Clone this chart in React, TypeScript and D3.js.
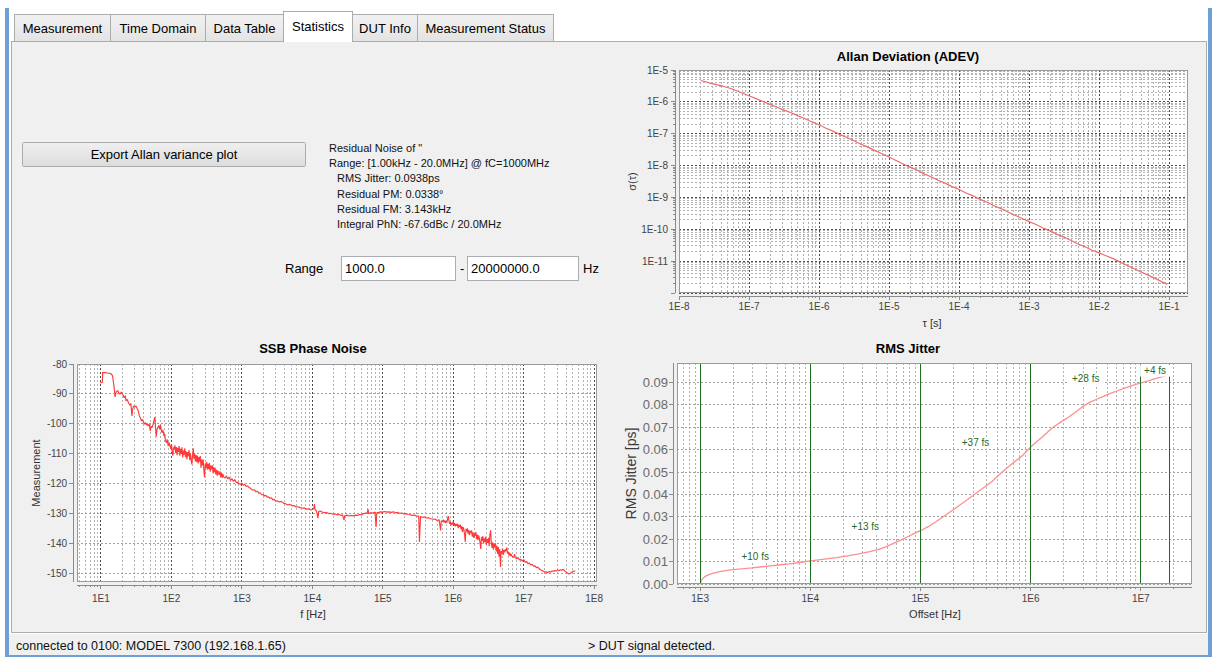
import React from 'react';
import * as d3 from 'd3';

const FONT = '"Liberation Sans", Arial, Helvetica, sans-serif';

// ---------------- data ----------------
const tabLabels = ['Measurement', 'Time Domain', 'Data Table', 'Statistics', 'DUT Info', 'Measurement Status'];
const activeTab = 'Statistics';
const exportButtonLabel = 'Export Allan variance plot';
const summaryLines = [
  'Residual Noise of "',
  'Range: [1.00kHz - 20.0MHz] @ fC=1000MHz',
  'RMS Jitter: 0.0938ps',
  'Residual PM: 0.0338°',
  'Residual FM: 3.143kHz',
  'Integral PhN: -67.6dBc / 20.0MHz',
];
const rangeStart = '1000.0';
const rangeEnd = '20000000.0';
const statusLeft = 'connected to 0100: MODEL 7300 (192.168.1.65)';
const statusRight = '> DUT signal detected.';

// Allan deviation: [log10 tau (s), log10 sigma]
const adevPoints: [number, number][] = [
  [-7.69, -5.33], [-7.62, -5.37], [-7.55, -5.42], [-7.48, -5.45], [-7.4, -5.49], [-7.32, -5.54], [-7.25, -5.59],
  [-7.17, -5.66], [-7.1, -5.72], [-7.0, -5.81], [-6.9, -5.9], [-6.8, -5.99], [-6.7, -6.08], [-6.6, -6.17],
  [-6.5, -6.26], [-6.4, -6.34], [-6.3, -6.44], [-6.2, -6.53], [-6.1, -6.63], [-6.0, -6.72], [-5.9, -6.83],
  [-5.8, -6.92], [-5.7, -7.03], [-5.6, -7.12], [-5.5, -7.22], [-5.4, -7.33], [-5.3, -7.42], [-5.2, -7.53],
  [-5.1, -7.63], [-5.0, -7.73], [-4.9, -7.84], [-4.8, -7.95], [-4.7, -8.05], [-4.6, -8.14], [-4.5, -8.26],
  [-4.4, -8.35], [-4.3, -8.46], [-4.2, -8.55], [-4.1, -8.66], [-4.0, -8.75], [-3.9, -8.86], [-3.8, -8.95],
  [-3.7, -9.06], [-3.6, -9.15], [-3.5, -9.26], [-3.4, -9.35], [-3.3, -9.46], [-3.2, -9.56], [-3.1, -9.66],
  [-3.0, -9.76], [-2.9, -9.85], [-2.8, -9.96], [-2.7, -10.05], [-2.6, -10.16], [-2.5, -10.25], [-2.4, -10.35],
  [-2.3, -10.46], [-2.2, -10.55], [-2.1, -10.66], [-2.0, -10.74], [-1.9, -10.83], [-1.8, -10.92], [-1.7, -11.03],
  [-1.6, -11.13], [-1.5, -11.24], [-1.4, -11.34], [-1.3, -11.44], [-1.2, -11.54], [-1.1, -11.65], [-1.03, -11.72],
];

// SSB phase noise: [log10 f (Hz), dBc/Hz]
const ssbPoints: [number, number][] = [
  [0.99, -86.3], [1.02, -86.2], [1.025, -82.8], [1.06, -82.9], [1.09, -83.0], [1.12, -83.1], [1.15, -83.4],
  [1.165, -84.0], [1.18, -86.6], [1.19, -88.5], [1.2, -91.0], [1.21, -89.8], [1.22, -89.2], [1.24, -88.9],
  [1.25, -89.6], [1.27, -90.1], [1.29, -89.4], [1.31, -90.2], [1.33, -91.3], [1.345, -90.6], [1.355, -92.4],
  [1.37, -91.8], [1.39, -92.9], [1.41, -93.8], [1.425, -93.2], [1.44, -97.4], [1.45, -95.1], [1.465, -94.0],
  [1.48, -94.4], [1.5, -94.1], [1.515, -95.0], [1.53, -95.7], [1.545, -97.4], [1.56, -98.0],
  [1.575, -99.1], [1.59, -98.6], [1.6, -99.3], [1.615, -100.2], [1.63, -99.6], [1.645, -100.4], [1.655, -99.9],
  [1.67, -100.8], [1.685, -100.1], [1.7, -102.4], [1.71, -100.9], [1.725, -101.3], [1.74, -100.2], [1.755, -98.6],
  [1.765, -97.8], [1.775, -101.5], [1.785, -104.3], [1.795, -102.0], [1.805, -101.4], [1.82, -100.6], [1.835, -101.9],
  [1.845, -100.3], [1.86, -102.6], [1.87, -103.0], [1.88, -102.1], [1.895, -104.2], [1.905, -103.5], [1.915, -105.6],
  [1.93, -106.4], [1.94, -105.2], [1.955, -107.5], [1.965, -106.3], [1.98, -107.4], [1.99, -108.4], [2.0, -106.8],
  [2.01, -109.3], [2.02, -110.7], [2.03, -107.9],
  [2.04, -108.6], [2.05, -107.2], [2.06, -109.8], [2.07, -107.8], [2.08, -110.5], [2.09, -108.1], [2.1, -109.4],
  [2.11, -107.5], [2.12, -110.7], [2.13, -108.4], [2.14, -110.1], [2.15, -107.9], [2.16, -111.3], [2.17, -109.0],
  [2.18, -110.4], [2.19, -108.2], [2.2, -111.2], [2.21, -109.2], [2.22, -111.9], [2.23, -109.5], [2.24, -110.9],
  [2.25, -108.8], [2.26, -112.1], [2.27, -110.0], [2.28, -112.3], [2.29, -113.6], [2.3, -110.6], [2.31, -108.2],
  [2.32, -111.7], [2.33, -110.0], [2.34, -112.6], [2.35, -110.5], [2.36, -112.9], [2.37, -110.7], [2.38, -113.3],
  [2.39, -111.2], [2.4, -112.7], [2.41, -110.8], [2.42, -114.8], [2.43, -112.0], [2.44, -114.0], [2.45, -111.9],
  [2.46, -115.4], [2.47, -117.9], [2.48, -113.3], [2.49, -114.8], [2.5, -112.8], [2.51, -115.4], [2.52, -113.4],
  [2.53, -115.2], [2.54, -113.2], [2.55, -116.1], [2.56, -114.0], [2.57, -115.3], [2.58, -113.9], [2.59, -116.5],
  [2.6, -114.5], [2.61, -116.2], [2.62, -114.8], [2.63, -117.0], [2.64, -115.4], [2.65, -117.4], [2.66, -115.7],
  [2.67, -116.7], [2.68, -117.2], [2.69, -115.9], [2.7, -117.8], [2.71, -116.4], [2.72, -118.1], [2.73, -116.8],
  [2.74, -117.8],
  [2.76, -118.2], [2.78, -117.4], [2.8, -118.5], [2.82, -117.9], [2.84, -119.0], [2.86, -118.4], [2.88, -119.3],
  [2.9, -118.7], [2.92, -119.7], [2.94, -119.6], [2.96, -120.1], [2.98, -120.3], [3.0, -119.9], [3.02, -120.6],
  [3.04, -120.3], [3.06, -121.0], [3.08, -120.8], [3.1, -121.3], [3.12, -121.6], [3.14, -122.0], [3.16, -122.3],
  [3.18, -122.1], [3.2, -122.8], [3.22, -122.6], [3.24, -123.3], [3.26, -123.1], [3.28, -123.8], [3.3, -123.7],
  [3.32, -124.2], [3.34, -124.0], [3.36, -124.6], [3.38, -124.5], [3.4, -125.0], [3.42, -124.8], [3.44, -125.5],
  [3.46, -125.3], [3.48, -125.9],
  [3.5, -125.8], [3.53, -126.2], [3.56, -126.0], [3.59, -126.6], [3.62, -126.8], [3.65, -127.2], [3.68, -127.0],
  [3.71, -127.5], [3.74, -127.4], [3.77, -127.9], [3.8, -127.8], [3.83, -128.1], [3.86, -128.3], [3.89, -128.2],
  [3.92, -128.6], [3.95, -128.5], [3.98, -128.9], [4.0, -128.7], [4.02, -128.4], [4.03, -126.9], [4.04, -128.8],
  [4.06, -129.3], [4.08, -131.6], [4.09, -129.4], [4.11, -129.2], [4.14, -129.6], [4.17, -129.8], [4.2, -129.7],
  [4.23, -130.1], [4.26, -130.0], [4.29, -130.3], [4.32, -130.2], [4.35, -130.5], [4.38, -130.4], [4.41, -130.7],
  [4.43, -130.5], [4.45, -132.3], [4.46, -130.8], [4.49, -130.6], [4.52, -130.9], [4.55, -130.7], [4.58, -130.9],
  [4.61, -130.6], [4.64, -130.7], [4.67, -130.4], [4.7, -130.5], [4.73, -130.1], [4.76, -129.9], [4.78, -130.0],
  [4.79, -128.6], [4.8, -130.1], [4.83, -129.8], [4.86, -129.9], [4.89, -129.6], [4.905, -134.6], [4.915, -129.8],
  [4.94, -129.7], [4.97, -129.5], [5.0, -129.6], [5.03, -129.4], [5.06, -129.6], [5.09, -129.5], [5.12, -129.7],
  [5.15, -129.5], [5.18, -129.8], [5.21, -129.7], [5.24, -130.0], [5.27, -129.9], [5.3, -130.2], [5.33, -130.1],
  [5.36, -130.4], [5.39, -130.5], [5.42, -130.7], [5.45, -130.6], [5.48, -131.0], [5.51, -130.9], [5.52, -139.6],
  [5.535, -131.1], [5.56, -131.3], [5.59, -131.2], [5.62, -131.6], [5.65, -131.5], [5.68, -131.8], [5.71, -132.0],
  [5.74, -131.9], [5.77, -132.4], [5.8, -132.2], [5.82, -135.7], [5.83, -132.5],
  [5.85, -132.8], [5.86, -132.1], [5.87, -133.0], [5.88, -132.4], [5.89, -133.3], [5.9, -132.6], [5.91, -133.1],
  [5.92, -131.8], [5.93, -130.9], [5.94, -132.7], [5.95, -133.5], [5.96, -132.9], [5.97, -134.0], [5.98, -133.2],
  [5.99, -133.8], [6.0, -132.8], [6.01, -134.1], [6.02, -133.3], [6.03, -134.4], [6.04, -133.6], [6.05, -134.2],
  [6.06, -133.5], [6.07, -135.0], [6.08, -133.9], [6.09, -134.6], [6.1, -133.8], [6.11, -135.3], [6.12, -134.3],
  [6.13, -136.2], [6.14, -134.6], [6.15, -135.4], [6.16, -137.0], [6.17, -139.6], [6.18, -135.2], [6.19, -136.1],
  [6.2, -135.0], [6.21, -136.8], [6.22, -135.5], [6.23, -137.3], [6.24, -135.9], [6.25, -136.6], [6.26, -135.7],
  [6.27, -137.8], [6.28, -136.4], [6.29, -138.2], [6.3, -136.8], [6.31, -137.5], [6.32, -136.3], [6.33, -138.6],
  [6.34, -137.1], [6.35, -139.0], [6.36, -137.4], [6.37, -138.3], [6.38, -139.8], [6.39, -141.9], [6.4, -138.0],
  [6.41, -139.2], [6.42, -137.6], [6.43, -140.1], [6.44, -138.4], [6.45, -139.6], [6.46, -137.9], [6.47, -140.5],
  [6.48, -138.6], [6.49, -139.9], [6.5, -138.2], [6.51, -141.0], [6.52, -137.1], [6.53, -135.7], [6.54, -139.8],
  [6.55, -141.6], [6.56, -139.7], [6.57, -142.2], [6.58, -140.3], [6.59, -141.4], [6.6, -140.0], [6.61, -142.8],
  [6.62, -140.9], [6.63, -143.6], [6.64, -141.3], [6.65, -144.5], [6.66, -142.0], [6.67, -148.0], [6.68, -142.6],
  [6.69, -143.4], [6.7, -141.9], [6.71, -143.9], [6.72, -142.3], [6.73, -143.1], [6.74, -142.0], [6.75, -142.6],
  [6.76, -141.4], [6.77, -143.5], [6.78, -142.8], [6.79, -144.1], [6.8, -143.2], [6.81, -144.3], [6.82, -143.6],
  [6.84, -144.6], [6.86, -144.7], [6.87, -143.7], [6.88, -144.9], [6.9, -145.2], [6.92, -144.8], [6.94, -145.6],
  [6.96, -145.4], [6.98, -146.0],
  [7.0, -145.5], [7.02, -146.4], [7.04, -146.1], [7.06, -146.9], [7.08, -146.6], [7.1, -147.3], [7.12, -147.1],
  [7.14, -147.7], [7.16, -147.6], [7.18, -148.2], [7.2, -148.0], [7.22, -148.6], [7.24, -148.9], [7.26, -149.2],
  [7.28, -149.4], [7.3, -149.7], [7.32, -149.6], [7.34, -149.9], [7.36, -149.5], [7.38, -149.7], [7.4, -149.3],
  [7.42, -149.4], [7.44, -149.2], [7.46, -149.3], [7.48, -149.0], [7.5, -149.2], [7.52, -148.9], [7.54, -149.1],
  [7.56, -148.7], [7.58, -149.3], [7.6, -149.6], [7.62, -150.0], [7.64, -150.3], [7.66, -150.1], [7.68, -149.8],
  [7.7, -149.4], [7.72, -149.3], [7.73, -149.5],
];

// integrated RMS jitter: [log10 f (Hz), ps]
const jitterPoints: [number, number][] = [
  [3.0, 0], [3.01, 0.0015], [3.03, 0.0027], [3.05, 0.0035], [3.08, 0.0042], [3.12, 0.0049], [3.19, 0.0056],
  [3.29, 0.0064], [3.38, 0.0068], [3.47, 0.0072], [3.56, 0.0077], [3.64, 0.0081], [3.73, 0.0086], [3.81, 0.009],
  [3.9, 0.0096], [4.0, 0.0103], [4.13, 0.0111], [4.24, 0.0118], [4.34, 0.0126], [4.44, 0.0135], [4.54, 0.0145],
  [4.62, 0.0155], [4.68, 0.0165], [4.75, 0.018], [4.82, 0.0196], [4.88, 0.021], [4.93, 0.0223], [5.0, 0.0238],
  [5.07, 0.0256], [5.14, 0.0278], [5.22, 0.0305], [5.31, 0.0336], [5.4, 0.0367], [5.48, 0.0396], [5.56, 0.0425],
  [5.65, 0.0458], [5.72, 0.049], [5.79, 0.052], [5.86, 0.0548], [5.93, 0.0575], [6.0, 0.0612], [6.06, 0.0637],
  [6.11, 0.0658], [6.16, 0.0681], [6.21, 0.0702], [6.28, 0.0725], [6.35, 0.0747], [6.42, 0.0773], [6.49, 0.0798],
  [6.54, 0.0812], [6.59, 0.0823], [6.66, 0.0838], [6.73, 0.0852], [6.79, 0.0863], [6.84, 0.0873], [6.92, 0.0886],
  [7.0, 0.0898], [7.06, 0.0906], [7.11, 0.0914], [7.18, 0.0924], [7.26, 0.0935],
];
const jitterSegEdges = [1e3, 1e4, 1e5, 1e6, 1e7, 1.82e7];
const jitterSegLabels = ['+10 fs', '+13 fs', '+37 fs', '+28 fs', '+4 fs'];
const jitterYTicks = [0, 0.01, 0.02, 0.03, 0.04, 0.05, 0.06, 0.07, 0.08, 0.09];
const ssbYTicks = [-80, -90, -100, -110, -120, -130, -140, -150];

// ---------------- style / layout ----------------
const COL = {
  panel: '#f0f0f0',
  border: '#acacac',
  gridMinor: '#b2b2b2',
  gridMajor: '#4a4a4a',
  gridH: '#a0a0a0',
  axis: '#8a8a8a',
  outline: '#9a9a9a',
  tickText: '#444',
  frame: '#6e9fd6',
  green: '#1f6b1f',
};
const tabEdges = [14, 110, 205, 283, 352, 417, 553];
const summaryIndent = [0, 0, 8, 8, 8, 8];

type Tick = { v: number; major: boolean; e: number };
function logTicks(lo: number, hi: number): Tick[] {
  const out: Tick[] = [];
  const e0 = Math.floor(Math.log10(lo));
  const e1 = Math.ceil(Math.log10(hi));
  for (let e = e0; e <= e1; e++) {
    for (let m = 1; m <= 9; m++) {
      const v = m * Math.pow(10, e);
      if (v >= lo * (1 - 1e-9) && v <= hi * (1 + 1e-9)) out.push({ v, major: m === 1, e });
    }
  }
  return out;
}
const px = (v: number) => Math.round(v - 0.5) + 0.5;

function Tabs() {
  const items = tabLabels.map((t, i) => ({ t, x0: tabEdges[i], x1: tabEdges[i + 1], sel: t === activeTab }));
  const ordered = [...items.filter((d) => !d.sel), ...items.filter((d) => d.sel)];
  return (
    <g>
      {ordered.map((d) => {
        const top = d.sel ? 11 : 14;
        return (
          <g key={d.t}>
            <rect x={d.x0 + 0.5} y={top + 0.5} width={d.x1 - d.x0} height={41 - top} fill={d.sel ? '#fff' : 'url(#tabGrad)'} stroke={COL.border} />
            {d.sel && <line x1={d.x0 + 1} x2={d.x1} y1={41.5} y2={41.5} stroke="#fff" />}
            <text x={(d.x0 + d.x1) / 2 + 0.5} y={d.sel ? 31 : 33} textAnchor="middle" fontSize={13} fill="#000">
              {d.t}
            </text>
          </g>
        );
      })}
    </g>
  );
}

function AdevChart() {
  const L = 679, R = 1188, T = 70, B = 293;
  const xHi = Math.pow(10, -0.73);
  const x = d3.scaleLog().domain([1e-8, xHi]).range([L, R]);
  const y = d3.scaleLog().domain([1e-12, 1e-5]).range([B, T]);
  const xt = logTicks(1e-8, xHi);
  const yt = logTicks(1e-12, 1e-5);
  const path = d3
    .line<[number, number]>()
    .x((d) => x(Math.pow(10, d[0])))
    .y((d) => y(Math.pow(10, d[1])))(adevPoints) as string;
  const axY = 296, axX = 675;
  return (
    <g>
      <text x={908} y={61} textAnchor="middle" fontSize={13} fontWeight="bold">Allan Deviation (ADEV)</text>
      <rect x={L} y={T} width={R - L} height={B - T} fill="#fff" />
      {xt.filter((t) => !t.major).map((t, i) => (
        <line key={'xm' + i} x1={px(x(t.v))} x2={px(x(t.v))} y1={T} y2={B} stroke={COL.gridMinor} strokeDasharray="2,2" />
      ))}
      {yt.filter((t) => !t.major).map((t, i) => (
        <line key={'ym' + i} y1={px(y(t.v))} y2={px(y(t.v))} x1={L} x2={R} stroke={COL.gridMinor} strokeDasharray="2,2" />
      ))}
      {xt.filter((t) => t.major).map((t, i) => (
        <line key={'xM' + i} x1={px(x(t.v))} x2={px(x(t.v))} y1={T} y2={B} stroke={COL.gridMajor} strokeDasharray="2,2" />
      ))}
      {yt.filter((t) => t.major).map((t, i) => (
        <line key={'yM' + i} y1={px(y(t.v))} y2={px(y(t.v))} x1={L} x2={R} stroke={COL.gridMajor} strokeDasharray="2,2" />
      ))}
      <path d={path} fill="none" stroke="#f06a6a" strokeWidth={1.2} />
      <rect x={L + 0.5} y={T + 0.5} width={R - L - 1} height={B - T - 1} fill="none" stroke={COL.outline} />
      <line x1={L} x2={R} y1={axY + 0.5} y2={axY + 0.5} stroke={COL.axis} />
      {xt.map((t, i) => (
        <line key={'xt' + i} x1={px(x(t.v))} x2={px(x(t.v))} y1={axY} y2={axY + (t.major ? 4 : 2)} stroke={COL.axis} />
      ))}
      {xt.filter((t) => t.major).map((t, i) => (
        <text key={'xl' + i} x={x(t.v)} y={310} textAnchor="middle" fontSize={10} fill={COL.tickText}>{`1E${t.e}`}</text>
      ))}
      <line x1={axX + 0.5} x2={axX + 0.5} y1={T} y2={B} stroke={COL.axis} />
      {yt.map((t, i) => (
        <line key={'yt' + i} x1={axX - (t.major ? 4 : 2)} x2={axX} y1={px(y(t.v))} y2={px(y(t.v))} stroke={COL.axis} />
      ))}
      {yt.filter((t) => t.major && t.e > -12).map((t, i) => (
        <text key={'yl' + i} x={668} y={y(t.v) + 3.5} textAnchor="end" fontSize={10} fill={COL.tickText}>{`1E${t.e}`}</text>
      ))}
      <text x={932} y={327} textAnchor="middle" fontSize={11} fill="#333">τ [s]</text>
      <text transform={`translate(636,${(T + B) / 2}) rotate(-90)`} textAnchor="middle" fontSize={11} fill="#333">σ(τ)</text>
    </g>
  );
}

function SsbChart() {
  const L = 77, R = 597, T = 364, B = 582;
  const xLo = Math.pow(10, 0.66), xHi = Math.pow(10, 8.04);
  const x = d3.scaleLog().domain([xLo, xHi]).range([L, R]);
  const y = d3.scaleLinear().domain([-153, -80]).range([B, T]);
  const xt = logTicks(xLo, xHi);
  const path = d3
    .line<[number, number]>()
    .x((d) => x(Math.pow(10, d[0])))
    .y((d) => y(d[1]))(ssbPoints) as string;
  const axY = 585, axX = 73;
  return (
    <g>
      <text x={313} y={353} textAnchor="middle" fontSize={13} fontWeight="bold">SSB Phase Noise</text>
      <rect x={L} y={T} width={R - L} height={B - T} fill="#fff" />
      {xt.filter((t) => !t.major).map((t, i) => (
        <line key={'xm' + i} x1={px(x(t.v))} x2={px(x(t.v))} y1={T} y2={B} stroke={COL.gridMinor} strokeDasharray="2,2" />
      ))}
      {ssbYTicks.map((v, i) => (
        <line key={'yg' + i} y1={px(y(v))} y2={px(y(v))} x1={L} x2={R} stroke={COL.gridH} strokeDasharray="2,2" />
      ))}
      {xt.filter((t) => t.major).map((t, i) => (
        <line key={'xM' + i} x1={px(x(t.v))} x2={px(x(t.v))} y1={T} y2={B} stroke={COL.gridMajor} strokeDasharray="2,2" />
      ))}
      <path d={path} fill="none" stroke="#ff3a3a" strokeWidth={1.15} strokeLinejoin="bevel" />
      <rect x={L + 0.5} y={T + 0.5} width={R - L - 1} height={B - T - 1} fill="none" stroke={COL.outline} />
      <line x1={L} x2={R} y1={axY + 0.5} y2={axY + 0.5} stroke={COL.axis} />
      {xt.map((t, i) => (
        <line key={'xt' + i} x1={px(x(t.v))} x2={px(x(t.v))} y1={axY} y2={axY + (t.major ? 4 : 2)} stroke={COL.axis} />
      ))}
      {xt.filter((t) => t.major).map((t, i) => (
        <text key={'xl' + i} x={x(t.v)} y={602} textAnchor="middle" fontSize={10} fill={COL.tickText}>{`1E${t.e}`}</text>
      ))}
      <line x1={axX + 0.5} x2={axX + 0.5} y1={T} y2={B} stroke={COL.axis} />
      {ssbYTicks.map((v, i) => (
        <line key={'yt' + i} x1={axX - 4} x2={axX} y1={px(y(v))} y2={px(y(v))} stroke={COL.axis} />
      ))}
      {ssbYTicks.map((v, i) => (
        <text key={'yl' + i} x={67} y={y(v) + 3.5} textAnchor="end" fontSize={10} fill={COL.tickText}>{String(v)}</text>
      ))}
      <text x={313} y={618} textAnchor="middle" fontSize={11} fill="#333">f [Hz]</text>
      <text transform={`translate(40,${(T + B) / 2}) rotate(-90)`} textAnchor="middle" fontSize={11} fill="#333">Measurement</text>
    </g>
  );
}

function JitterChart() {
  const L = 677, R = 1192, T = 363, B = 584;
  const xLo = Math.pow(10, 2.79), xHi = Math.pow(10, 7.465);
  const x = d3.scaleLog().domain([xLo, xHi]).range([L, R]);
  const y = d3.scaleLinear().domain([0, 0.0987]).range([B, T]);
  const xt = logTicks(xLo, xHi);
  const path = d3
    .line<[number, number]>()
    .x((d) => x(Math.pow(10, d[0])))
    .y((d) => y(d[1]))(jitterPoints) as string;
  const bis = d3.bisector((d: [number, number]) => d[0]).left;
  const valueAt = (lf: number) => {
    const i = Math.min(jitterPoints.length - 1, Math.max(1, bis(jitterPoints, lf)));
    const a = jitterPoints[i - 1], b = jitterPoints[i];
    const t = (lf - a[0]) / (b[0] - a[0] || 1);
    return a[1] + Math.max(0, Math.min(1, t)) * (b[1] - a[1]);
  };
  const axY = 587, axX = 673;
  return (
    <g>
      <text x={908} y={353} textAnchor="middle" fontSize={13} fontWeight="bold">RMS Jitter</text>
      <rect x={L} y={T} width={R - L} height={B - T} fill="#fff" />
      {xt.map((t, i) => (
        <line key={'xm' + i} x1={px(x(t.v))} x2={px(x(t.v))} y1={T} y2={B} stroke={t.major ? COL.gridMajor : COL.gridMinor} strokeDasharray="2,2" />
      ))}
      {jitterYTicks.map((v, i) => (
        <line key={'yg' + i} y1={px(y(v))} y2={px(y(v))} x1={L} x2={R} stroke={COL.gridH} strokeDasharray="2,2" />
      ))}
      <path d={path} fill="none" stroke="#ff8e8e" strokeWidth={1.3} />
      {jitterSegEdges.map((v, i) => (
        <line key={'g' + i} x1={px(x(v))} x2={px(x(v))} y1={T} y2={B} stroke={COL.green} strokeWidth={1} />
      ))}
      <rect x={L + 0.5} y={T + 0.5} width={R - L - 1} height={B - T - 1} fill="none" stroke={COL.outline} />
      {jitterSegLabels.map((lab, i) => {
        const a = Math.log10(jitterSegEdges[i]);
        const b = Math.log10(jitterSegEdges[i + 1]);
        const cx = x(Math.pow(10, (a + b) / 2));
        const cy = y(valueAt(b)) - 4;
        const w = lab.length * 5.2 + 4;
        return (
          <g key={'a' + i}>
            <rect x={cx - w / 2} y={cy - 6} width={w} height={12} fill="#fff" />
            <text x={cx} y={cy + 3.5} textAnchor="middle" fontSize={10} fill={COL.green}>{lab}</text>
          </g>
        );
      })}
      <line x1={L} x2={R} y1={axY + 0.5} y2={axY + 0.5} stroke={COL.axis} />
      {xt.map((t, i) => (
        <line key={'xt' + i} x1={px(x(t.v))} x2={px(x(t.v))} y1={axY} y2={axY + (t.major ? 4 : 2)} stroke={COL.axis} />
      ))}
      {xt.filter((t) => t.major).map((t, i) => (
        <text key={'xl' + i} x={x(t.v)} y={602} textAnchor="middle" fontSize={10} fill={COL.tickText}>{`1E${t.e}`}</text>
      ))}
      <line x1={axX + 0.5} x2={axX + 0.5} y1={T} y2={B} stroke={COL.axis} />
      {jitterYTicks.map((v, i) => (
        <line key={'yt' + i} x1={axX - 4} x2={axX} y1={px(y(v))} y2={px(y(v))} stroke={COL.axis} />
      ))}
      {jitterYTicks.map((v, i) => (
        <text key={'yl' + i} x={668} y={y(v) + 4.5} textAnchor="end" fontSize={13} fill="#6a6a6a">{d3.format('.2f')(v)}</text>
      ))}
      <text x={935} y={618} textAnchor="middle" fontSize={11} fill="#333">Offset [Hz]</text>
      <text transform={`translate(636,${(T + B) / 2}) rotate(-90)`} textAnchor="middle" fontSize={14} fill="#3a3a3a">RMS Jitter [ps]</text>
    </g>
  );
}

export default function App() {
  return (
    <svg
      width={1212}
      height={657}
      viewBox="0 0 1212 657"
      style={{ position: 'absolute', left: 0, top: 0, display: 'block' }}
      fontFamily={FONT}
    >
      <defs>
        <linearGradient id="tabGrad" x1="0" y1="0" x2="0" y2="1">
          <stop offset="0" stopColor="#f2f2f2" />
          <stop offset="1" stopColor="#e3e3e3" />
        </linearGradient>
        <linearGradient id="btnGrad" x1="0" y1="0" x2="0" y2="1">
          <stop offset="0" stopColor="#f0f0f0" />
          <stop offset="1" stopColor="#dcdcdc" />
        </linearGradient>
      </defs>
      <rect x={0} y={0} width={1212} height={657} fill="#fff" />
      <rect x={5} y={8} width={4} height={649} fill={COL.frame} />
      <rect x={1208} y={8} width={4} height={649} fill={COL.frame} />
      <rect x={5} y={655} width={1207} height={2} fill={COL.frame} />
      <rect x={11.5} y={41.5} width={1195} height={591} fill={COL.panel} stroke={COL.border} />
      <Tabs />
      <rect x={22.5} y={142.5} width={283} height={24} rx={1} fill="url(#btnGrad)" stroke={COL.border} />
      <text x={164} y={159} textAnchor="middle" fontSize={13}>{exportButtonLabel}</text>
      {summaryLines.map((s, i) => (
        <text key={i} x={329 + summaryIndent[i]} y={152 + i * 15.2} fontSize={11} fill="#111">{s}</text>
      ))}
      <text x={285} y={273} fontSize={13}>Range</text>
      <rect x={341.5} y={256.5} width={114} height={24} fill="#fff" stroke="#abadb3" />
      <text x={345} y={273} fontSize={13}>{rangeStart}</text>
      <text x={460} y={273} fontSize={13}>-</text>
      <rect x={467.5} y={256.5} width={111} height={24} fill="#fff" stroke="#abadb3" />
      <text x={471} y={273} fontSize={13}>{rangeEnd}</text>
      <text x={583} y={273} fontSize={13}>Hz</text>
      <AdevChart />
      <SsbChart />
      <JitterChart />
      <rect x={9} y={634} width={1199} height={21} fill={COL.panel} />
      <text x={16} y={650} fontSize={12.5} fill="#111">{statusLeft}</text>
      <text x={588} y={650} fontSize={12.5} fill="#111">{statusRight}</text>
    </svg>
  );
}
